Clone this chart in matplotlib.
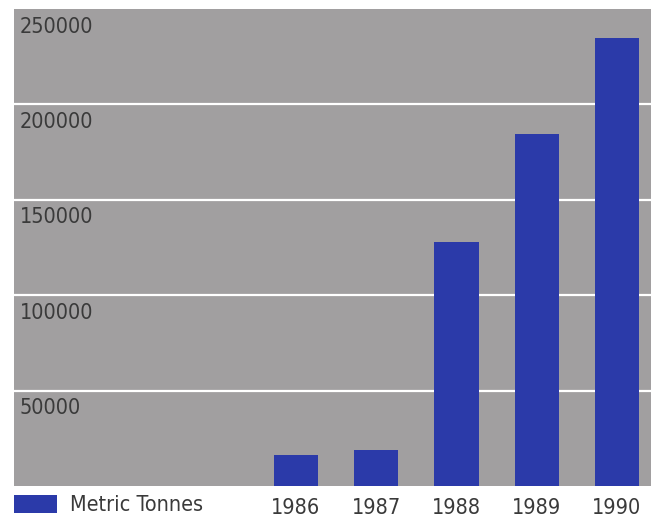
import matplotlib.pyplot as plt
import numpy as np

# data to plot
years = ['1986', '1987', '1988', '1989', '1990']
tonnes = [16200, 18800, 128100, 184600, 235000]
y_ticks = [50000, 100000, 150000, 200000, 250000]
series_label = 'Metric Tonnes'

plt.rcParams['font.family'] = ['DejaVu Sans']
plt.rcParams['font.stretch'] = 'condensed'

bg_gray = '#a19fa0'
bar_blue = '#2b3aa9'
text_col = '#3a3a3a'
fsize = 15.5

W, H = 651, 525
fig = plt.figure(figsize=(W / 100, H / 100), dpi=100)
ax = fig.add_axes([14 / W, (H - 486) / H, (W - 14) / W, (486 - 9) / H])
ax.set_facecolor(bg_gray)

index = np.arange(len(years))
bars = ax.bar(index, tonnes, 0.55, color=bar_blue, label=series_label, zorder=3)

ax.set_ylim(0, 250000)
ax.set_xlim(-3.514, 4.424)

# white gridlines, labels sit just under each line inside the plot
for v in y_ticks:
    if v < 250000:
        ax.axhline(v, color='white', lw=1.6, zorder=2)
    ax.text(-3.44, v - 4000, str(v), ha='left', va='top', fontsize=fsize,
            color=text_col, zorder=4)

ax.set_yticks([])
ax.set_xticks(index)
ax.set_xticklabels(years, fontsize=fsize, color=text_col)
ax.tick_params(axis='x', length=0, pad=9)
for s in ax.spines.values():
    s.set_visible(False)

ax.legend(handles=[bars], loc='upper left', bbox_to_anchor=(14 / W, 1 - 495 / H),
          bbox_transform=fig.transFigure, frameon=False, fontsize=fsize,
          handlelength=2.0, handleheight=0.9, handletextpad=0.6,
          borderpad=0, borderaxespad=0, labelcolor=text_col)

plt.savefig('out.png', dpi=100)
